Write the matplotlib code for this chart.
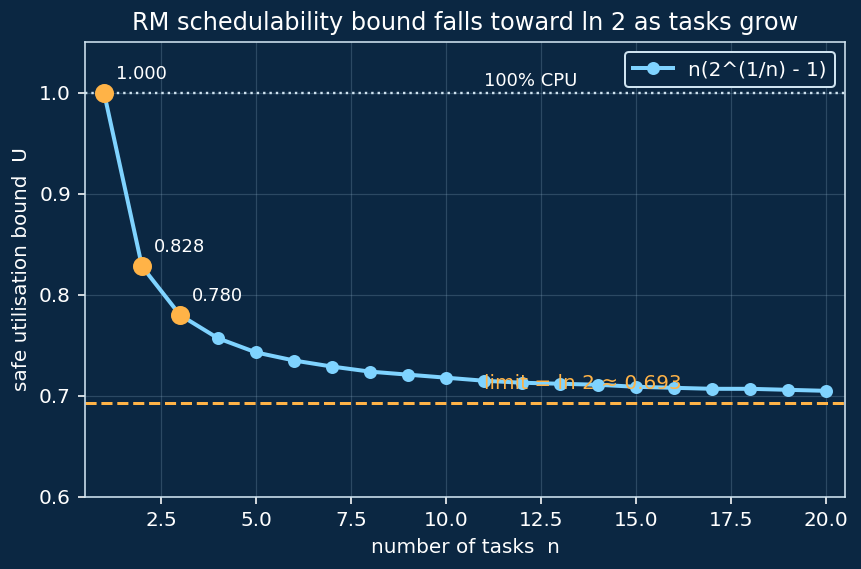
import matplotlib
matplotlib.use("Agg")
import matplotlib.pyplot as plt

n_tasks = list(range(1, 21))
bound = [1.000, 0.828, 0.780, 0.757, 0.743, 0.735, 0.729, 0.724, 0.721, 0.718,
         0.715, 0.713, 0.712, 0.711, 0.709, 0.708, 0.707, 0.707, 0.706, 0.705]
highlight_n = [1, 2, 3]
highlight_u = [1.000, 0.828, 0.780]
highlight_labels = ["1.000", "0.828", "0.780"]
limit_value = 0.693
cpu_full = 1.0

bg = "#0b2742"
fg = "#ffffff"
spine_c = "#cfe3f0"
blue = "#7fd3ff"
orange = "#ffb347"

fig, ax = plt.subplots(figsize=(861 / 144, 569 / 144), dpi=144)
fig.patch.set_facecolor(bg)
ax.set_facecolor(bg)

ax.grid(True, color="#8fb0c8", alpha=0.25, linewidth=0.6)
ax.set_axisbelow(True)

ax.plot(n_tasks, bound, color=blue, lw=2, marker="o", markersize=5.5,
        label="n(2^(1/n) - 1)", zorder=3)
ax.plot(highlight_n, highlight_u, linestyle="none", marker="o", markersize=8.5,
        color=orange, zorder=4)
for x, y, s in zip(highlight_n, highlight_u, highlight_labels):
    ax.annotate(s, (x, y), textcoords="offset points", xytext=(6, 7),
                color=fg, fontsize=9)

ax.axhline(cpu_full, color=spine_c, linestyle=":", lw=1.2, zorder=2)
ax.text(11, cpu_full + 0.003, "100% CPU", color=fg, fontsize=9, va="bottom")
ax.axhline(limit_value, color=orange, linestyle="--", lw=1.5, zorder=2)
ax.text(11, limit_value + 0.010, "limit = ln 2 ≈ 0.693", color=orange,
        fontsize=10, va="bottom")

ax.set_xlim(0.5, 20.5)
ax.set_ylim(0.6, 1.05)
ax.set_title("RM schedulability bound falls toward ln 2 as tasks grow",
             color=fg, fontsize=12)
ax.set_xlabel("number of tasks  n", color=fg, fontsize=10)
ax.set_ylabel("safe utilisation bound  U", color=fg, fontsize=10)
ax.tick_params(colors=fg, labelsize=10)
for sp in ax.spines.values():
    sp.set_color(spine_c)

leg = ax.legend(loc="upper right", facecolor=bg, edgecolor=spine_c,
                fontsize=10, framealpha=1)
for t in leg.get_texts():
    t.set_color(fg)

fig.subplots_adjust(left=85 / 861, right=845 / 861, top=1 - 42 / 569,
                    bottom=1 - 497 / 569)
fig.savefig("out.png", dpi=144, facecolor=bg)
